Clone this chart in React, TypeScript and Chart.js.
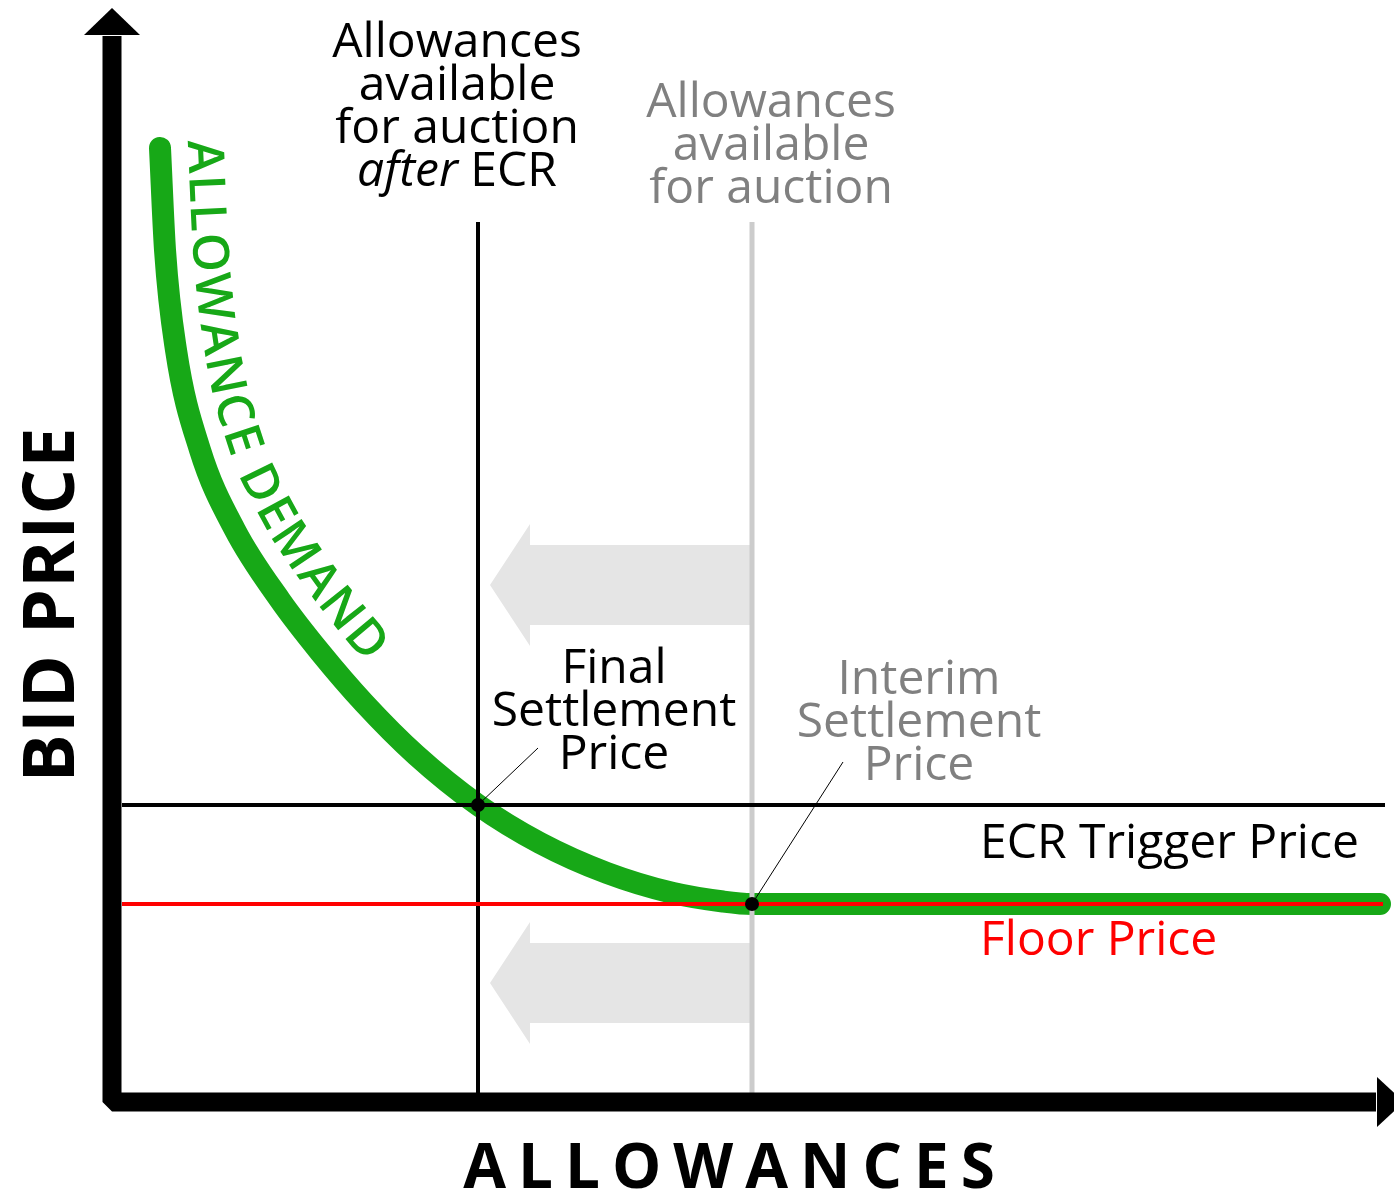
import React, { useEffect, useRef } from "react";
import { Chart, registerables } from "chart.js";
Chart.register(...registerables);

const CANVAS_W = 1394;
const CANVAS_H = 1194;

// value domain of the diagram (allowances on x, bid price on y)
const X_MIN = -11.2;
const X_MAX = 128.2;
const Y_MIN = -9.2;
const Y_MAX = 110.2;

// allowance demand curve
const demandAllowances = [4.8, 5.3, 6.4, 8.8, 12.3, 16.8, 20.8, 25.2, 30.4, 36.6, 42.8, 49.5, 56.1, 61.1, 64.0, 126.8];
const demandPrices = [95.4, 85.2, 75.2, 65.2, 57.2, 50.2, 45.0, 39.9, 34.7, 29.7, 25.9, 22.9, 20.9, 20.05, 19.8, 19.8];

// reference levels
const floorPrice = 19.8;
const ecrTriggerPrice = 29.7;
const allowancesAfterECR = 36.6;
const allowancesAvailable = 64.0;
const priceLineFrom = 1.0;
const priceLineTo = [127.3, 127.1]; // trigger, floor
const supplyLineFrom = 0.9;
const supplyLineTo = 88.0;

// leader line ends
const finalLeaderEnd = [42.6, 35.4];
const interimLeaderEnd = [73.1, 34.0];

// shift arrows (centre prices)
const shiftArrowPrices = [51.7, 11.9];
const shiftArrowTip = 37.8;
const shiftArrowHeadBase = 41.8;
const shiftArrowTail = 63.8;

// axis arrows
const axisTopValue = 109.4;
const axisRightValue = 129.2;

// texts
const afterEcrLines = ["Allowances", "available", "for auction"];
const afterEcrLast = ["after", " ECR"];
const beforeLines = ["Allowances", "available", "for auction"];
const finalLines = ["Final", "Settlement", "Price"];
const interimLines = ["Interim", "Settlement", "Price"];
const triggerLabel = "ECR Trigger Price";
const floorLabel = "Floor Price";
const demandLabel = "ALLOWANCE DEMAND";
const yTitle = "BID PRICE";
const xTitle = "ALLOWANCES";

const GREEN = "#17a817";
const GRAY_TEXT = "#808080";
const FONT = "'Open Sans', 'DejaVu Sans', sans-serif";

function spacedWidth(ctx: CanvasRenderingContext2D, text: string, spacing: number) {
  let w = 0;
  for (const ch of text) w += ctx.measureText(ch).width;
  return w + spacing * (text.length - 1);
}

function drawSpaced(ctx: CanvasRenderingContext2D, text: string, cx: number, y: number, spacing: number) {
  const total = spacedWidth(ctx, text, spacing);
  let x = cx - total / 2;
  ctx.textAlign = "left";
  for (const ch of text) {
    ctx.fillText(ch, x, y);
    x += ctx.measureText(ch).width + spacing;
  }
}

const diagramPlugin = {
  id: "diagram",
  beforeDatasetsDraw(chart: any) {
    const ctx: CanvasRenderingContext2D = chart.ctx;
    const X = (v: number) => chart.scales.x.getPixelForValue(v);
    const Y = (v: number) => chart.scales.y.getPixelForValue(v);
    ctx.save();
    ctx.fillStyle = "#e5e5e5";
    const halfShaft = Math.abs(Y(0) - Y(4.0));
    const halfHead = Math.abs(Y(0) - Y(6.1));
    for (const p of shiftArrowPrices) {
      const cy = Y(p);
      ctx.beginPath();
      ctx.moveTo(X(shiftArrowTip), cy);
      ctx.lineTo(X(shiftArrowHeadBase), cy - halfHead);
      ctx.lineTo(X(shiftArrowHeadBase), cy - halfShaft);
      ctx.lineTo(X(shiftArrowTail), cy - halfShaft);
      ctx.lineTo(X(shiftArrowTail), cy + halfShaft);
      ctx.lineTo(X(shiftArrowHeadBase), cy + halfShaft);
      ctx.lineTo(X(shiftArrowHeadBase), cy + halfHead);
      ctx.closePath();
      ctx.fill();
    }
    ctx.restore();
  },
  afterDatasetsDraw(chart: any) {
    const ctx: CanvasRenderingContext2D = chart.ctx;
    const X = (v: number) => chart.scales.x.getPixelForValue(v);
    const Y = (v: number) => chart.scales.y.getPixelForValue(v);
    ctx.save();

    // axes
    const ox = X(0);
    const oy = Y(0);
    const headBaseY = Y(axisTopValue) + 27;
    const headBaseX = X(axisRightValue) - 27;
    ctx.strokeStyle = "#000";
    ctx.lineWidth = 19;
    ctx.lineJoin = "bevel";
    ctx.lineCap = "butt";
    ctx.beginPath();
    ctx.moveTo(ox, headBaseY + 1);
    ctx.lineTo(ox, oy);
    ctx.lineTo(headBaseX - 1, oy);
    ctx.stroke();
    ctx.fillStyle = "#000";
    ctx.beginPath();
    ctx.moveTo(ox, Y(axisTopValue));
    ctx.lineTo(ox + 28, headBaseY);
    ctx.lineTo(ox - 28, headBaseY);
    ctx.closePath();
    ctx.fill();
    ctx.beginPath();
    ctx.moveTo(X(axisRightValue), oy);
    ctx.lineTo(headBaseX, oy - 25);
    ctx.lineTo(headBaseX, oy + 25);
    ctx.closePath();
    ctx.fill();

    // text along the demand curve
    const meta = chart.getDatasetMeta(chart.data.datasets.length - 1);
    const els = meta.data;
    const pts: { x: number; y: number }[] = [];
    for (let i = 0; i < els.length - 1; i++) {
      const a = els[i], b = els[i + 1];
      const c1x = a.cp2x ?? a.x, c1y = a.cp2y ?? a.y;
      const c2x = b.cp1x ?? b.x, c2y = b.cp1y ?? b.y;
      for (let k = 0; k < 20; k++) {
        const t = k / 20, u = 1 - t;
        pts.push({
          x: u * u * u * a.x + 3 * u * u * t * c1x + 3 * u * t * t * c2x + t * t * t * b.x,
          y: u * u * u * a.y + 3 * u * u * t * c1y + 3 * u * t * t * c2y + t * t * t * b.y,
        });
      }
    }
    const offset = 28;
    const off = pts.map((p, i) => {
      const a = pts[Math.max(0, i - 2)], b = pts[Math.min(pts.length - 1, i + 2)];
      const dx = b.x - a.x, dy = b.y - a.y;
      const L = Math.hypot(dx, dy) || 1;
      return { x: p.x + (dy / L) * offset, y: p.y - (dx / L) * offset };
    });
    const cum = [0];
    for (let i = 1; i < off.length; i++) cum.push(cum[i - 1] + Math.hypot(off[i].x - off[i - 1].x, off[i].y - off[i - 1].y));
    const at = (s: number) => {
      let i = 1;
      while (i < cum.length - 1 && cum[i] < s) i++;
      const a = off[i - 1], b = off[i];
      const seg = cum[i] - cum[i - 1] || 1;
      const t = (s - cum[i - 1]) / seg;
      return { x: a.x + (b.x - a.x) * t, y: a.y + (b.y - a.y) * t };
    };
    ctx.fillStyle = GREEN;
    ctx.font = `600 50px ${FONT}`;
    ctx.textAlign = "center";
    ctx.textBaseline = "alphabetic";
    const spacing = 2;
    let s = -6;
    for (const ch of demandLabel) {
      const w = ctx.measureText(ch).width;
      const mid = s + w / 2;
      const p = at(mid);
      const p1 = at(mid - w / 2);
      const p2 = at(mid + w / 2);
      const ang = Math.atan2(p2.y - p1.y, p2.x - p1.x);
      ctx.save();
      ctx.translate(p.x, p.y);
      ctx.rotate(ang);
      ctx.fillText(ch, 0, 0);
      ctx.restore();
      s += w + spacing;
    }

    // labels
    ctx.textBaseline = "alphabetic";
    ctx.textAlign = "center";
    ctx.font = `48px ${FONT}`;
    ctx.fillStyle = "#000";
    const afterY = [104.5, 100.2, 95.9];
    afterEcrLines.forEach((t, i) => ctx.fillText(t, X(34.5), Y(afterY[i])));
    {
      ctx.font = `italic 48px ${FONT}`;
      const w1 = ctx.measureText(afterEcrLast[0]).width;
      ctx.font = `48px ${FONT}`;
      const w2 = ctx.measureText(afterEcrLast[1]).width;
      const x0 = X(34.5) - (w1 + w2) / 2;
      ctx.textAlign = "left";
      ctx.font = `italic 48px ${FONT}`;
      ctx.fillText(afterEcrLast[0], x0, Y(91.6));
      ctx.font = `48px ${FONT}`;
      ctx.fillText(afterEcrLast[1], x0 + w1, Y(91.6));
      ctx.textAlign = "center";
    }
    ctx.fillStyle = GRAY_TEXT;
    const beforeY = [98.5, 94.2, 89.9];
    beforeLines.forEach((t, i) => ctx.fillText(t, X(65.9), Y(beforeY[i])));
    ctx.fillStyle = "#000";
    const finalY = [41.9, 37.6, 33.3];
    finalLines.forEach((t, i) => ctx.fillText(t, X(50.2), Y(finalY[i])));
    ctx.fillStyle = GRAY_TEXT;
    const interimY = [40.8, 36.5, 32.2];
    interimLines.forEach((t, i) => ctx.fillText(t, X(80.7), Y(interimY[i])));
    ctx.textAlign = "left";
    ctx.fillStyle = "#000";
    ctx.fillText(triggerLabel, X(86.8), Y(24.4));
    ctx.fillStyle = "#ff0000";
    ctx.fillText(floorLabel, X(86.8), Y(14.7));

    // axis titles
    ctx.fillStyle = "#000";
    ctx.font = `bold 62px ${FONT}`;
    drawSpaced(ctx, xTitle, X(61.7), Y(-8.6), 12);
    ctx.save();
    ctx.translate(X(-3.8), Y(49.7));
    ctx.rotate(-Math.PI / 2);
    ctx.font = `bold 72px ${FONT}`;
    drawSpaced(ctx, yTitle, 0, 0, 1);
    ctx.restore();

    ctx.restore();
  },
};

export default function App() {
  const ref = useRef<HTMLCanvasElement | null>(null);
  useEffect(() => {
    document.body.style.margin = "0";
    document.body.style.overflow = "hidden";
    const canvas = ref.current!;
    const line = (xs: number[], ys: number[], color: string, width: number) => ({
      data: xs.map((x, i) => ({ x, y: ys[i] })),
      borderColor: color,
      borderWidth: width,
      pointRadius: 0,
      fill: false,
      tension: 0,
    });
    const datasets: any[] = [
      {
        data: [
          { x: allowancesAfterECR, y: ecrTriggerPrice },
          { x: allowancesAvailable, y: floorPrice },
        ],
        showLine: false,
        pointRadius: 7,
        pointBackgroundColor: "#000",
        pointBorderWidth: 0,
      },
      line([allowancesAfterECR, finalLeaderEnd[0]], [ecrTriggerPrice, finalLeaderEnd[1]], "#000", 1),
      line([allowancesAvailable, interimLeaderEnd[0]], [floorPrice, interimLeaderEnd[1]], "#000", 1),
      line([priceLineFrom, priceLineTo[1]], [floorPrice, floorPrice], "#ff0000", 4),
      line([priceLineFrom, priceLineTo[0]], [ecrTriggerPrice, ecrTriggerPrice], "#000", 4),
      line([allowancesAfterECR, allowancesAfterECR], [supplyLineFrom, supplyLineTo], "#000", 4),
      line([allowancesAvailable, allowancesAvailable], [supplyLineFrom, supplyLineTo], "#cccccc", 5),
      {
        data: demandAllowances.map((x, i) => ({ x, y: demandPrices[i] })),
        borderColor: GREEN,
        borderWidth: 22,
        borderCapStyle: "round",
        borderJoinStyle: "round",
        pointRadius: 0,
        cubicInterpolationMode: "monotone",
        fill: false,
      },
    ];
    const chart = new Chart(canvas, {
      type: "line",
      data: { datasets },
      options: {
        animation: false,
        responsive: false,
        devicePixelRatio: 1,
        layout: { padding: 0, autoPadding: false },
        scales: {
          x: { type: "linear", min: X_MIN, max: X_MAX, display: false },
          y: { type: "linear", min: Y_MIN, max: Y_MAX, display: false },
        },
        plugins: { legend: { display: false }, tooltip: { enabled: false } },
        elements: { line: { borderCapStyle: "butt" } },
      },
      plugins: [diagramPlugin],
    } as any);
    return () => chart.destroy();
  }, []);
  return (
    <div style={{ position: "absolute", left: 0, top: 0, width: CANVAS_W, height: CANVAS_H, background: "#fff" }}>
      <canvas ref={ref} width={CANVAS_W} height={CANVAS_H} />
    </div>
  );
}
